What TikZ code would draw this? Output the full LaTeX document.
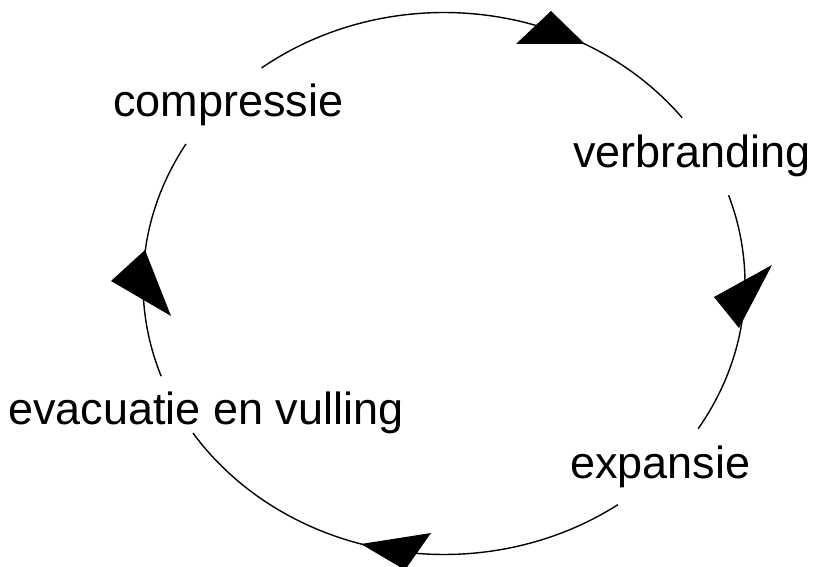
\documentclass[tikz,border=0pt]{standalone}
\usepackage{fontspec}
\setmainfont{Liberation Sans}
\begin{document}
\begin{tikzpicture}[x=1pt,y=-1pt,
  stage/.style={anchor=base west,inner sep=0pt,font=\fontsize{45}{54}\selectfont},
  cycle/.style={line width=1.4pt,black},
  tip/.style={fill=black}]
\useasboundingbox (0,0) rectangle (815,567);
% cycle ellipse, centre (444,283.5), radii 301 x 271, broken at the labels
\draw[cycle] plot[domain=127.3:37.7,samples=80] ({444+301*cos(\x)},{283.5-271*sin(\x)});
\draw[cycle] plot[domain=19:-32.4,samples=60] ({444+301*cos(\x)},{283.5-271*sin(\x)});
\draw[cycle] plot[domain=-54.7:-146.5,samples=80] ({444+301*cos(\x)},{283.5-271*sin(\x)});
\draw[cycle] plot[domain=200:149,samples=60] ({444+301*cos(\x)},{283.5-271*sin(\x)});
% stage labels
\node[stage] (comp) at (113,117) {compressie};
\node[stage] (verb) at (573,168) {verbranding};
\node[stage] (exp)  at (570,478) {expansie};
\node[stage] (evac) at (8,424) {evacuatie en vulling};
% direction markers
\fill[tip] (516,44) -- (551,11) -- (585,44) -- cycle;
\fill[tip] (714,297) -- (772,265) -- (739,328) -- cycle;
\fill[tip] (361,544) -- (431,533) -- (405,570) -- cycle;
\fill[tip] (145,250) -- (111,281) -- (171,316) -- cycle;
\end{tikzpicture}
\end{document}
